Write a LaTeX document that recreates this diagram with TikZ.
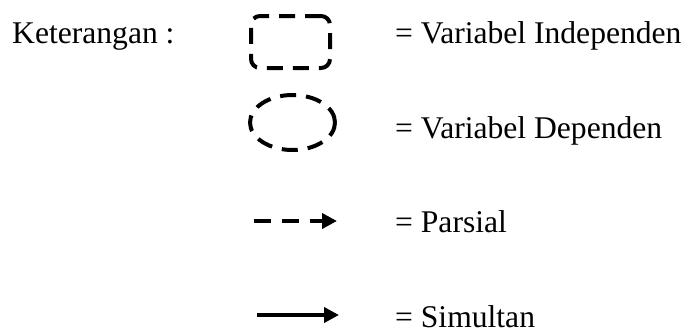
\documentclass[tikz,border=0pt]{standalone}
\usepackage{fontspec}
\setmainfont{Liberation Serif}
\usetikzlibrary{arrows.meta,shapes.geometric}
\begin{document}
\begin{tikzpicture}[x=1pt,y=-1pt,
  lbl/.style={anchor=base west,inner sep=0pt,font=\fontsize{31.6}{36}\selectfont},
  dsh/.style={line width=4pt,dash pattern=on 16pt off 10pt},
  indep/.style={draw,dsh,rounded corners=9pt,minimum width=79pt,minimum height=52pt,inner sep=0pt},
  dep/.style={draw,dsh,ellipse,minimum width=85pt,minimum height=55pt,inner sep=0pt},
  arr/.style={line width=4pt,-{Triangle[length=15pt,width=15pt]}}]
\useasboundingbox (0,0) rectangle (696,333);
\node[lbl] (ket) at (12,43) {Keterangan :};
\node[indep] (box) at (290.5,42) {};
\node[dep] (ell) at (292.5,122.5) {};
\coordinate (pa) at (254,221);
\coordinate (pb) at (337,221);
\coordinate (sa) at (257,315);
\coordinate (sb) at (339,315);
\draw[arr,dash pattern=on 17pt off 11pt] (pa) -- (pb);
\draw[arr] (sa) -- (sb);
\node[lbl] (t1) at (395,43) {= Variabel Independen};
\node[lbl] (t2) at (395,138) {= Variabel Dependen};
\node[lbl] (t3) at (395,232) {= Parsial};
\node[lbl] (t4) at (395,327) {= Simultan};
\end{tikzpicture}
\end{document}
